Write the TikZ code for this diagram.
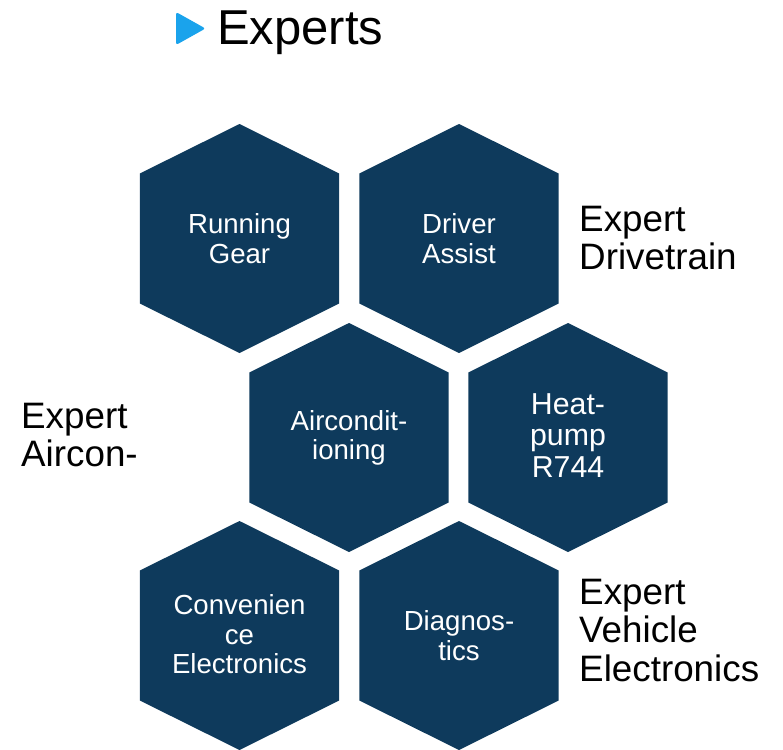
\documentclass[tikz,border=0pt]{standalone}
\usepackage{fontspec}
\setmainfont{Liberation Sans}
\definecolor{hexblue}{HTML}{0E3A5C}
\definecolor{tribl}{HTML}{1AA3EC}
\begin{document}
\begin{tikzpicture}[x=1pt,y=-1pt,
  hexfill/.style={fill=hexblue},
  hextext/.style={text=white,align=center,font=\fontsize{27.6}{29.5}\selectfont,inner sep=0pt},
  sidelabel/.style={text=black,align=left,font=\fontsize{36.8}{38.4}\selectfont,inner sep=0pt,anchor=west}]
\useasboundingbox (0,0) rectangle (783,749);
\clip (0,0) rectangle (783,749);
% hexagons
\foreach \cx/\cy in {239.5/238.5, 459/238.5, 349/437.5, 568/437.5, 239.5/635.5, 459/635.5}{
  \fill[hexfill] (\cx,\cy-114.5) -- (\cx+99.7,\cy-65) -- (\cx+99.7,\cy+65) -- (\cx,\cy+114.5) -- (\cx-99.7,\cy+65) -- (\cx-99.7,\cy-65) -- cycle;
}
% title
\fill[tribl,rounded corners=2.5pt] (176,12) -- (205.5,28.5) -- (176,45) -- cycle;
\node[anchor=base west,inner sep=0pt,font=\fontsize{49}{52}\selectfont] (title) at (217,45) {Experts};
% hex texts
\node[hextext] (run) at (239.5,238.5) {Running\\Gear};
\node[hextext] (drv) at (459,238.5) {Driver\\Assist};
\node[hextext] (air) at (349,438) {Aircondit-\\ioning};
\node[hextext,font=\fontsize{30.3}{31.2}\selectfont] (heat) at (568,435.5) {Heat-\\pump\\R744};
\node[hextext] (conv) at (239.5,634.5) {Convenien\\ce\\Electronics};
\node[hextext] (diag) at (459,635.5) {Diagnos-\\tics};
% side labels
\node[sidelabel] (edt) at (579,238) {Expert\\Drivetrain};
\node[sidelabel] (eac) at (21,435) {Expert\\Aircon-};
\node[sidelabel] (eve) at (579,630.5) {Expert\\Vehicle\\Electronics};
\end{tikzpicture}
\end{document}
